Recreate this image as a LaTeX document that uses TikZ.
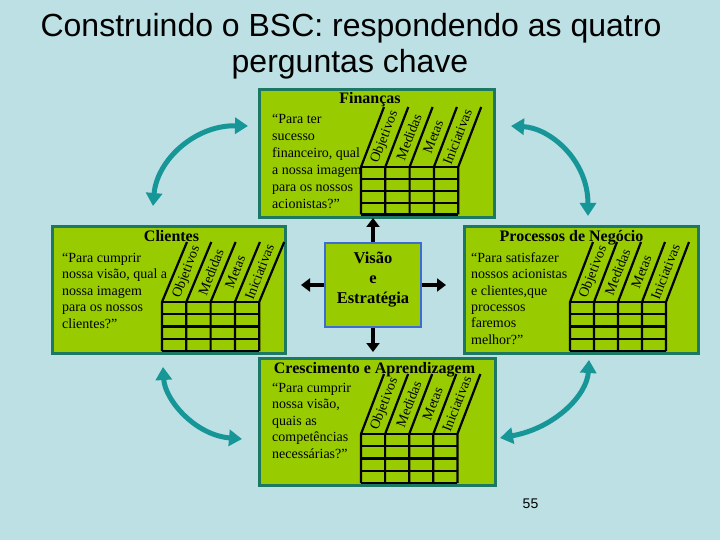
\documentclass[tikz,border=0pt]{standalone}
\usepackage{fontspec}
\setmainfont{Liberation Serif}
\newfontfamily\sansfam{Liberation Sans}
\usetikzlibrary{arrows.meta}
\definecolor{bg}{RGB}{188,224,228}
\definecolor{panelfill}{RGB}{153,204,0}
\definecolor{paneledge}{RGB}{28,120,98}
\definecolor{tealarrow}{RGB}{22,150,150}
\definecolor{visedge}{RGB}{60,110,210}
\tikzset{
  panel/.style={draw=paneledge, line width=3pt, fill=panelfill, anchor=north west, inner sep=0pt},
  gridline/.style={line width=2.2pt, black},
  collabel/.style={font=\fontsize{14}{14}\selectfont, inner sep=0pt, rotate=68.6},
  quote/.style={align=left, anchor=north west, inner sep=0pt},
  ptitle/.style={font=\bfseries\fontsize{16}{16}\selectfont, anchor=base, inner sep=0pt},
  cycle arrow/.style={tealarrow, line width=5pt, {Triangle[width=16pt,length=13pt]}-{Triangle[width=16pt,length=13pt]}},
  center arrow/.style={black, line width=4pt, -{Triangle[width=13pt,length=9pt]}},
  titletext/.style={font=\sansfam\fontsize{32}{32}\selectfont, anchor=base, inner sep=0pt},
}
\newcommand\bscgrid[6]{%
  \foreach \i in {0,...,4}{
    \draw[gridline] ({#2+\i*#5},#4) -- ({#2+\i*#5},#3) -- ++(#6,-60);
  }
  \foreach \j in {0,...,4}{
    \draw[gridline] (#2,{#3+\j*(#4-#3)/4}) -- ({#2+4*#5},{#3+\j*(#4-#3)/4});
  }
  \foreach \i/\lbl in {0/Objetivos,1/Medidas,2/Metas,3/Iniciativas}{
    \node[collabel] (#1-\i) at ({#2+(\i+0.5)*#5+#6/2},{#3-30}) {\lbl};
  }
}
\begin{document}
\begin{tikzpicture}[x=1pt,y=-1pt]
\useasboundingbox (0,0) rectangle (720,540);
\fill[bg] (0,0) rectangle (720,540);

% title
\node[titletext] (title1) at (351,37) {Construindo o BSC: respondendo as quatro};
\node[titletext] (title2) at (350,73) {perguntas chave};

% panels
\node[panel, minimum width=235pt, minimum height=128pt] (fin) at (258,88) {};
\node[panel, minimum width=233pt, minimum height=127pt] (cli) at (51,225) {};
\node[panel, minimum width=234pt, minimum height=127pt] (pro) at (463,225) {};
\node[panel, minimum width=236pt, minimum height=127pt] (cre) at (258,357) {};

% panel titles
\node[ptitle] (fintitle) at (370,104) {Finanças};
\node[ptitle] (clititle) at (171.5,241) {Clientes};
\node[ptitle] (protitle) at (571.5,241) {Processos de Negócio};
\node[ptitle] (cretitle) at (374.5,373) {Crescimento e Aprendizagem};

% quotes
\node[quote, font=\fontsize{14}{17}\selectfont] (finq) at (272,113.5)
  {“Para ter\\sucesso\\financeiro, qual\\a nossa imagem\\para os nossos\\acionistas?”};
\node[quote, font=\fontsize{14}{16.6}\selectfont] (cliq) at (62,252.5)
  {“Para cumprir\\nossa visão, qual a\\nossa imagem\\para os nossos\\clientes?”};
\node[quote, font=\fontsize{14}{16.3}\selectfont] (proq) at (471,252.5)
  {“Para satisfazer\\nossos acionistas\\e clientes,que\\processos\\faremos\\melhor?”};
\node[quote, font=\fontsize{14}{16.5}\selectfont] (creq) at (272,382.5)
  {“Para cumprir\\nossa visão,\\quais as\\competências\\necessárias?”};

% grids
\bscgrid{fg}{361}{167}{214.5}{24.3}{23}
\bscgrid{cg}{162}{302}{351}{24.3}{25}
\bscgrid{pg}{570}{302}{351}{24}{23}
\bscgrid{rg}{361}{434}{483}{24.1}{23}

% vision box
\node[draw=visedge, line width=2pt, fill=panelfill, minimum width=96pt, minimum height=84pt, inner sep=0pt] (vis) at (373,285) {};
\node[font=\bfseries\fontsize{16.5}{20}\selectfont, align=center, anchor=north, inner sep=0pt] (vistext) at (373,252) {Visão\\e\\Estratégia};

% center arrows
\coordinate (upTip) at (373,218);
\coordinate (downTip) at (373,352);
\coordinate (leftTip) at (301,285);
\coordinate (rightTip) at (446,285);
\draw[center arrow] (vis.north) -- (upTip);
\draw[center arrow] (vis.south) -- (downTip);
\draw[center arrow] (vis.west) -- (leftTip);
\draw[center arrow] (vis.east) -- (rightTip);

% cycle arrows
\coordinate (tlA) at (153,206); \coordinate (tlB) at (248,126);
\coordinate (trA) at (511,126); \coordinate (trB) at (588,216);
\coordinate (blA) at (163,367); \coordinate (blB) at (242,439);
\coordinate (brA) at (589,360); \coordinate (brB) at (500,438);
\draw[cycle arrow] (tlA) .. controls (157,160) and (195,125) .. (tlB);
\draw[cycle arrow] (trA) .. controls (550,128) and (588,160) .. (trB);
\draw[cycle arrow] (blA) .. controls (165,400) and (195,435) .. (blB);
\draw[cycle arrow] (brA) .. controls (587,395) and (555,428) .. (brB);

% page number
\node[font=\sansfam\fontsize{14}{14}\selectfont, anchor=base, inner sep=0pt] (pagenum) at (530.5,508) {55};
\end{tikzpicture}
\end{document}
